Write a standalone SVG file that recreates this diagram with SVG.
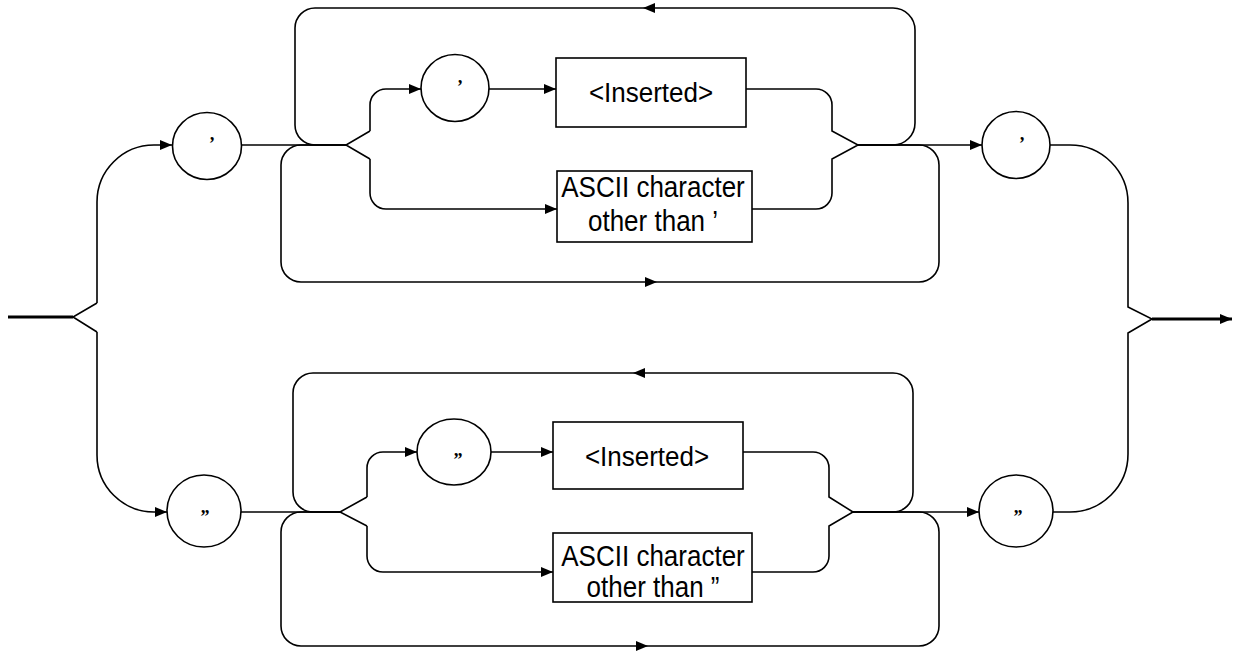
<svg xmlns="http://www.w3.org/2000/svg" xmlns:xlink="http://www.w3.org/1999/xlink" width="1235" height="652" viewBox="0 0 1235 652">
<style>
.ln{fill:none;stroke:#000;stroke-width:1.6;stroke-linejoin:miter}
.thick{fill:none;stroke:#000;stroke-width:3}
.nd{fill:#fff;stroke:#000;stroke-width:1.6}
.lbl{font-family:"Liberation Sans",Arial,sans-serif;font-size:26px;fill:#000;text-anchor:middle}
.q{font-family:"Liberation Serif","Times New Roman",serif;font-size:18px;font-weight:bold;fill:#000;text-anchor:middle}
</style>
<defs>
<marker id="ah" viewBox="0 0 12 10" refX="12" refY="5" markerWidth="12" markerHeight="10" orient="auto" markerUnits="userSpaceOnUse"><path d="M0,0 L12,5 L0,10 z" fill="#000"/></marker>
<path id="arr" d="M0,0 L-12,-5 L-12,5 z" fill="#000"/>
</defs>
<rect width="1235" height="652" fill="#fff"/>
<g id="connectors">
<!-- entry -->
<path class="thick" d="M8,317 H73"/>
<path class="ln" d="M97,303 L73,317 L97,332"/>
<path class="ln" d="M97,303 V202 A57,57 0 0 1 154,145 H172" marker-end="url(#ah)"/>
<path class="ln" d="M97,332 V455 A57,57 0 0 0 154,512 H167" marker-end="url(#ah)"/>
<!-- top section -->
<path class="ln" d="M241,145 H346"/>
<path class="ln" d="M370,131 L346,145 L370,159"/>
<path class="ln" d="M346,145 H315 A20,20 0 0 1 295,125 V28 A20,20 0 0 1 315,8 H893 A22,22 0 0 1 915,30 V123 A22,22 0 0 1 893,145 H858"/>
<use xlink:href="#arr" href="#arr" transform="translate(643,8) rotate(180)"/>
<path class="ln" d="M346,145 H301 A20,20 0 0 0 281,165 V262 A20,20 0 0 0 301,282 H919 A20,20 0 0 0 939,262 V165 A20,20 0 0 0 919,145 H858"/>
<use xlink:href="#arr" href="#arr" transform="translate(657,282)"/>
<path class="ln" d="M370,131 V105 A16,16 0 0 1 386,89 H421" marker-end="url(#ah)"/>
<path class="ln" d="M489,89 H556" marker-end="url(#ah)"/>
<path class="ln" d="M370,159 V193 A16,16 0 0 0 386,209 H557" marker-end="url(#ah)"/>
<path class="ln" d="M746,89 H816 A16,16 0 0 1 832,105 V131 L858,145 L832,159 V193 A16,16 0 0 1 816,209 H752"/>
<path class="ln" d="M858,145 H982" marker-end="url(#ah)"/>
<!-- exit -->
<path class="ln" d="M1050,145 H1070 A58,58 0 0 1 1128,203 V307 L1152,319 L1128,333 V454 A58,58 0 0 1 1070,512 H1053"/>
<path class="thick" d="M1152,319 H1232" marker-end="url(#ah)"/>
<!-- bottom section -->
<path class="ln" d="M241,512 H340"/>
<path class="ln" d="M367,497 L340,512 L367,526"/>
<path class="ln" d="M340,512 H313 A20,20 0 0 1 293,492 V393 A20,20 0 0 1 313,373 H893 A20,20 0 0 1 913,393 V492 A20,20 0 0 1 893,512 H853"/>
<use xlink:href="#arr" href="#arr" transform="translate(633,373) rotate(180)"/>
<path class="ln" d="M340,512 H301 A20,20 0 0 0 281,532 V626 A20,20 0 0 0 301,646 H919 A20,20 0 0 0 939,626 V532 A20,20 0 0 0 919,512 H853"/>
<use xlink:href="#arr" href="#arr" transform="translate(648,646)"/>
<path class="ln" d="M367,497 V468 A16,16 0 0 1 383,452 H417" marker-end="url(#ah)"/>
<path class="ln" d="M491,452 H553" marker-end="url(#ah)"/>
<path class="ln" d="M367,526 V556 A16,16 0 0 0 383,572 H553" marker-end="url(#ah)"/>
<path class="ln" d="M743,452 H813 A16,16 0 0 1 829,468 V497 L853,512 L829,526 V556 A16,16 0 0 1 813,572 H752"/>
<path class="ln" d="M853,512 H979" marker-end="url(#ah)"/>
</g>
<g id="n-q1">
<ellipse class="nd" cx="207" cy="146" rx="34.5" ry="33.5"/>
<text class="q" x="212" y="150">’</text>
</g>
<g id="n-q2">
<ellipse class="nd" cx="455" cy="88" rx="34" ry="33.5"/>
<text class="q" x="460" y="93">’</text>
</g>
<g id="n-ins1">
<rect class="nd" x="556" y="58" width="190" height="69"/>
<text class="lbl" transform="translate(651,102) scale(1,1.08)">&lt;Inserted&gt;</text>
</g>
<g id="n-ascii1">
<rect class="nd" x="557" y="171" width="195" height="71"/>
<text class="lbl" transform="translate(653,197) scale(1,1.1)">ASCII character</text>
<text class="lbl" transform="translate(653,231) scale(1,1.1)">other than ’</text>
</g>
<g id="n-q3">
<ellipse class="nd" cx="1016" cy="145" rx="34" ry="33.5"/>
<text class="q" x="1022" y="150">’</text>
</g>
<g id="n-dq1">
<ellipse class="nd" cx="204" cy="511" rx="37" ry="36"/>
<text class="q" x="205" y="523">”</text>
</g>
<g id="n-dq2">
<ellipse class="nd" cx="454" cy="452" rx="37" ry="33"/>
<text class="q" x="458" y="466">”</text>
</g>
<g id="n-ins2">
<rect class="nd" x="553" y="422" width="190" height="67"/>
<text class="lbl" transform="translate(647,466) scale(1,1.08)">&lt;Inserted&gt;</text>
</g>
<g id="n-ascii2">
<rect class="nd" x="553" y="533" width="199" height="69"/>
<text class="lbl" transform="translate(653,566) scale(1,1.1)">ASCII character</text>
<text class="lbl" transform="translate(653,597) scale(1,1.1)">other than ”</text>
</g>
<g id="n-dq3">
<ellipse class="nd" cx="1016" cy="511" rx="37" ry="36"/>
<text class="q" x="1018" y="523">”</text>
</g>
</svg>
